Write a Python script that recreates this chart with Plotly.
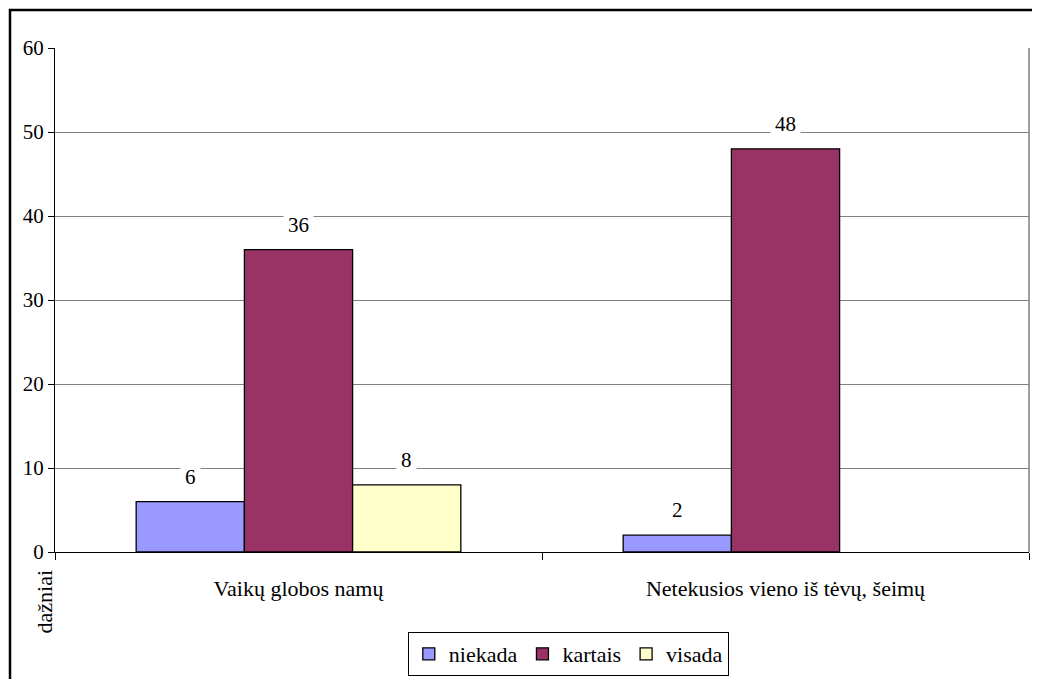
import plotly.graph_objects as go

categories = ['Vaikų globos namų', 'Netekusios vieno iš tėvų, šeimų']
series_names = ['niekada', 'kartais', 'visada']
niekada = [6, 2]
kartais = [36, 48]
visada = [8, None]
colors = ['#9999FF', '#993366', '#FFFFCC']
y_ticks = [0, 10, 20, 30, 40, 50, 60]

FONT = 'Times New Roman'
BARGAP = 1 / 3

fig = go.Figure()
all_values = [niekada, kartais, visada]
for name, vals, col in zip(series_names, all_values, colors):
    fig.add_trace(
        go.Bar(
            x=categories,
            y=vals,
            name=name,
            marker=dict(color=col, line=dict(color='black', width=1.3)),
        )
    )

# data labels with white background, like the original chart
bw = (1 - BARGAP) / len(series_names)
for j, vals in enumerate(all_values):
    for i, v in enumerate(vals):
        if v is None:
            continue
        fig.add_annotation(
            x=i + (j - 1) * bw,
            y=v,
            yshift=25,
            text=str(v),
            showarrow=False,
            bgcolor='white',
            borderpad=4,
            font=dict(family=FONT, size=21, color='black'),
        )

# outer chart frame (runs off the canvas at right and bottom)
fig.add_shape(type='rect', xref='paper', yref='paper', layer='below',
              x0=-0.0462, x1=1.2, y0=-0.5, y1=1.0754,
              line=dict(color='black', width=2.5))
# right edge of plot area
fig.add_shape(type='line', xref='paper', yref='paper', layer='below',
              x0=1, x1=1, y0=0, y1=1,
              line=dict(color='#808080', width=1.5))

fig.add_annotation(
    text='dažniai', xref='paper', yref='paper',
    x=-0.0257, y=-0.1647, textangle=-90, showarrow=False,
    font=dict(family=FONT, size=22, color='black'),
)

# page adds an 8px body margin, so the figure is 8px smaller
fig.update_layout(
    width=1032,
    height=671,
    barmode='group',
    bargap=BARGAP,
    bargroupgap=0,
    plot_bgcolor='white',
    paper_bgcolor='white',
    margin=dict(l=47, r=11, t=40, b=127),
    font=dict(family=FONT, color='black'),
    showlegend=True,
    legend=dict(
        orientation='h',
        x=0.527, xanchor='center',
        yref='container', y=0.070, yanchor='top',
        bordercolor='black', borderwidth=1,
        font=dict(family=FONT, size=22, color='black'),
        itemwidth=30,
        traceorder='normal',
    ),
    xaxis=dict(
        showline=True, linecolor='black', linewidth=1.3,
        ticks='outside', tickson='boundaries', ticklen=7, tickcolor='black',
        ticklabelstandoff=16,
        tickfont=dict(family=FONT, size=22, color='black'),
        showgrid=False,
    ),
    yaxis=dict(
        range=[0, 60],
        tickvals=y_ticks,
        showline=True, linecolor='black', linewidth=1.3,
        ticks='outside', ticklen=6, tickcolor='black',
        tickfont=dict(family=FONT, size=21, color='black'),
        gridcolor='#808080', gridwidth=1.3,
        zeroline=False,
    ),
)

fig.write_html('out.html')
